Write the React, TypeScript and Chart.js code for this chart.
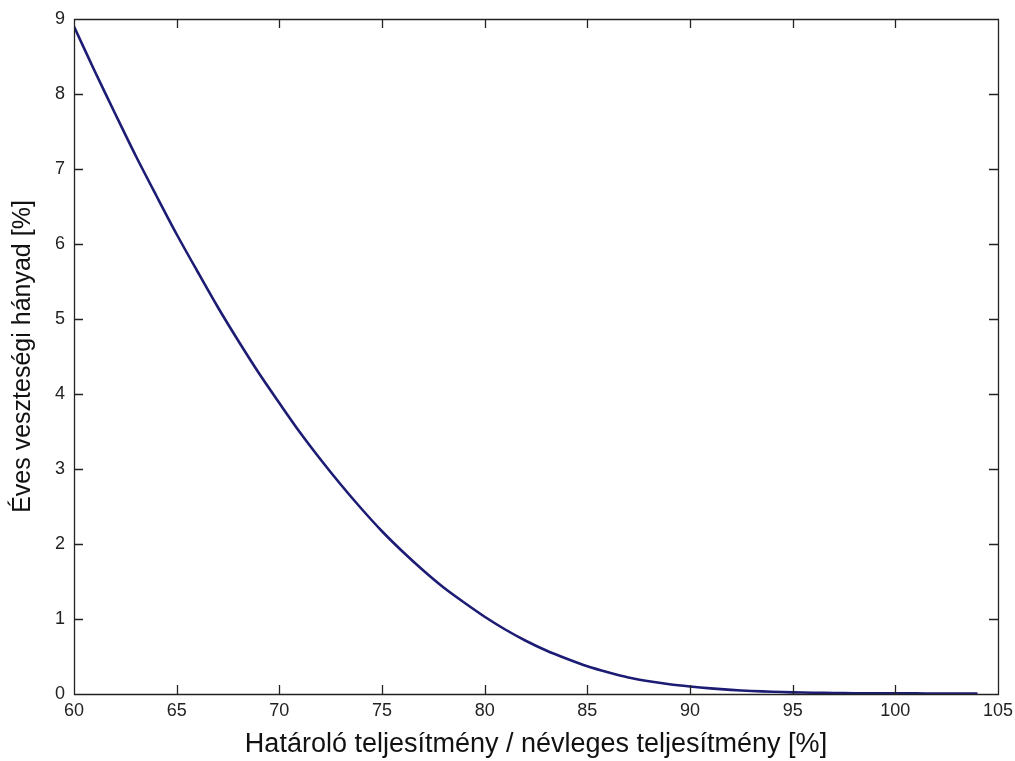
import React, { useEffect, useRef } from "react";
import { Chart, registerables } from "chart.js";

Chart.register(...registerables);

const xValues: number[] = [
  60, 61, 62, 63, 64, 65, 66, 67, 68, 69, 70, 71, 72, 73, 74, 75, 76, 77, 78, 79,
  80, 81, 82, 83, 84, 85, 86, 87, 88, 89, 90, 91, 92, 93, 94, 95, 96, 97, 98, 99,
  100, 101, 102, 103, 104,
];
const lossValues: number[] = [
  8.9, 8.31, 7.74, 7.18, 6.65, 6.13, 5.64, 5.16, 4.71, 4.28, 3.88, 3.49, 3.13, 2.79,
  2.47, 2.17, 1.9, 1.65, 1.42, 1.22, 1.03, 0.86, 0.71, 0.58, 0.47, 0.37, 0.29, 0.22,
  0.17, 0.13, 0.1, 0.075, 0.055, 0.04, 0.03, 0.022, 0.017, 0.013, 0.011, 0.01, 0.009,
  0.008, 0.007, 0.006, 0.005,
];
const xTicks: number[] = [60, 65, 70, 75, 80, 85, 90, 95, 100, 105];
const yTicks: number[] = [0, 1, 2, 3, 4, 5, 6, 7, 8, 9];
const xTitle = "Határoló teljesítmény / névleges teljesítmény [%]";
const yTitle = "Éves veszteségi hányad [%]";

const FONT = "'Liberation Sans', Arial, sans-serif";

const boxPlugin = {
  id: "matlabBox",
  afterDraw(chart: any) {
    const { ctx, chartArea } = chart;
    const xs = chart.scales.x;
    const ys = chart.scales.y;
    const L = 9;
    ctx.save();
    ctx.strokeStyle = "#222";
    ctx.lineWidth = 1.3;
    ctx.beginPath();
    ctx.rect(chartArea.left + 0.5, chartArea.top + 0.5, chartArea.right - chartArea.left, chartArea.bottom - chartArea.top);
    for (const v of xTicks) {
      const px = Math.round(xs.getPixelForValue(v)) + 0.5;
      ctx.moveTo(px, chartArea.bottom);
      ctx.lineTo(px, chartArea.bottom - L);
      ctx.moveTo(px, chartArea.top);
      ctx.lineTo(px, chartArea.top + L);
    }
    for (const v of yTicks) {
      const py = Math.round(ys.getPixelForValue(v)) + 0.5;
      ctx.moveTo(chartArea.left, py);
      ctx.lineTo(chartArea.left + L, py);
      ctx.moveTo(chartArea.right, py);
      ctx.lineTo(chartArea.right - L, py);
    }
    ctx.stroke();
    ctx.restore();
  },
};

export default function App() {
  const ref = useRef<HTMLCanvasElement | null>(null);
  useEffect(() => {
    document.body.style.margin = "0";
    if (!ref.current) return;
    const chart = new Chart(ref.current, {
      type: "line",
      data: {
        datasets: [
          {
            data: xValues.map((x, i) => ({ x, y: lossValues[i] })),
            borderColor: "#1c1c74",
            borderWidth: 2.6,
            pointRadius: 0,
            tension: 0.3,
            fill: false,
          },
        ],
      },
      options: {
        animation: false,
        responsive: false,
        maintainAspectRatio: false,
        layout: { padding: { left: 0, right: 17, top: 19, bottom: 0 } },
        plugins: { legend: { display: false }, tooltip: { enabled: false } },
        scales: {
          x: {
            type: "linear",
            min: 60,
            max: 105,
            afterBuildTicks: (s: any) => {
              s.ticks = xTicks.map((v) => ({ value: v }));
            },
            afterFit: (s: any) => {
              s.height = 67;
              s.paddingLeft = 0;
              s.paddingRight = 0;
            },
            grid: { display: false, drawTicks: false },
            border: { display: false },
            ticks: {
              color: "#222",
              font: { family: FONT, size: 18 },
              padding: 6,
              maxRotation: 0,
              autoSkip: false,
            },
            title: {
              display: true,
              text: xTitle,
              color: "#111",
              font: { family: FONT, size: 27 },
              padding: { top: 2, bottom: 0 },
            },
          },
          y: {
            type: "linear",
            min: 0,
            max: 9,
            afterBuildTicks: (s: any) => {
              s.ticks = yTicks.map((v) => ({ value: v }));
            },
            afterFit: (s: any) => {
              s.width = 74;
              s.paddingTop = 0;
              s.paddingBottom = 0;
            },
            grid: { display: false, drawTicks: false },
            border: { display: false },
            ticks: {
              color: "#222",
              font: { family: FONT, size: 18 },
              padding: 9,
              autoSkip: false,
            },
            title: {
              display: true,
              text: yTitle,
              color: "#111",
              font: { family: FONT, size: 25 },
              padding: { top: 8, bottom: 0 },
            },
          },
        },
      },
      plugins: [boxPlugin],
    });
    return () => chart.destroy();
  }, []);
  return (
    <div style={{ width: 1015, height: 761, background: "#fff" }}>
      <canvas ref={ref} width={1015} height={761} style={{ display: "block" }} />
    </div>
  );
}
